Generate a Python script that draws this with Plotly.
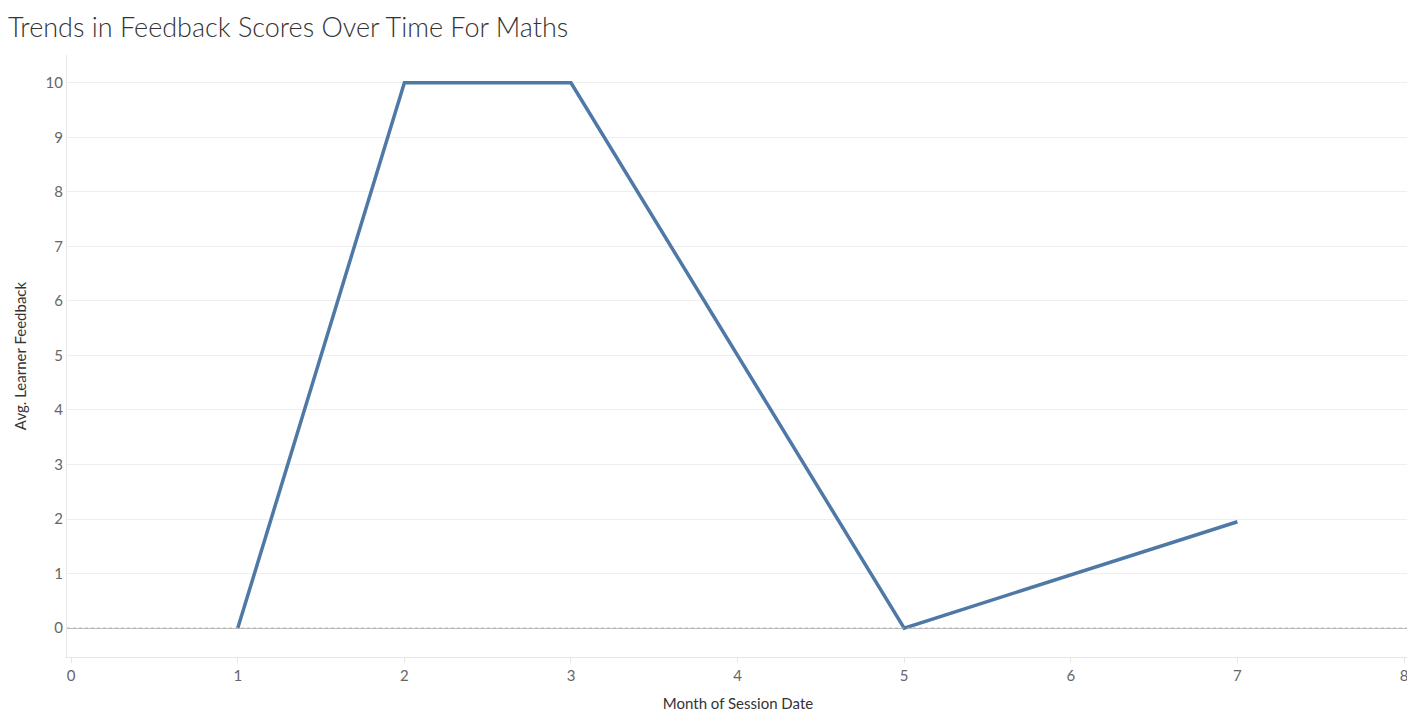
import plotly.graph_objects as go

months = [1, 2, 3, 5, 7]
feedback = [0, 10, 10, 0, 1.95]
x_ticks = [0, 1, 2, 3, 4, 5, 6, 7, 8]
y_ticks = [0, 1, 2, 3, 4, 5, 6, 7, 8, 9, 10]

fig = go.Figure(go.Scatter(x=months, y=feedback, mode="lines",
                           line=dict(color="#4e79a7", width=3.5)))
fig.update_layout(
    width=1407, height=712, plot_bgcolor="white", paper_bgcolor="white",
    margin=dict(l=59, r=6, t=47, b=63),
    title=dict(text="Trends in Feedback Scores Over Time For Maths", x=0, xanchor="left",
               y=0.973, yanchor="middle",
               font=dict(family="Lato", size=27, color="#333333", weight=300)),
    font=dict(family="Lato", color="#666666", size=15),
    showlegend=False,
)
fig.update_xaxes(range=[-0.025, 8.03], tickvals=x_ticks, showgrid=False, zeroline=False,
                 showline=True, linecolor="#e6e6e6", ticks="outside", tickcolor="#e6e6e6",
                 ticklen=5, title=dict(text="Month of Session Date", font=dict(color="#333333", size=15)))
fig.update_yaxes(range=[-0.53, 10.51], tickvals=y_ticks, showgrid=True, gridcolor="#efefef",
                 zeroline=True, zerolinecolor="#c0c0c0", zerolinewidth=1,
                 showline=True, linecolor="#e6e6e6",
                 title=dict(text="Avg. Learner Feedback", font=dict(color="#333333", size=15)))
fig.add_hline(y=0, line=dict(color="#b0b0b0", width=1, dash="dot"))
fig.write_html("out.html")
